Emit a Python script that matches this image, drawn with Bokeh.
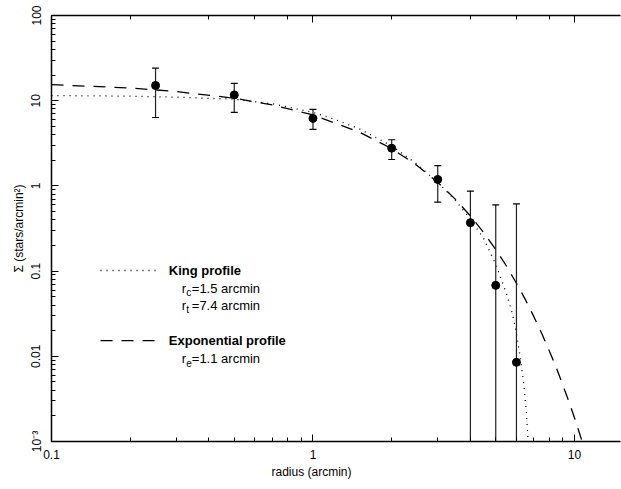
from bokeh.plotting import figure
from bokeh.models import LogAxis, LogTicker, CustomJSTickFormatter, Range1d, Title
from bokeh.embed import file_html
from bokeh.resources import INLINE
from bokeh.core.properties import value

# ---- data ----
radius = [0.25, 0.5, 1, 2, 3, 4, 5, 6]
sigma = [15.1, 11.7, 6.2, 2.77, 1.19, 0.37, 0.068, 0.0085]
sigma_hi = [24.1, 16.0, 7.9, 3.48, 1.73, 0.87, 0.60, 0.615]
sigma_lo = [6.35, 7.28, 4.6, 2.04, 0.645, None, None, None]   # None: below plot

king_r = [0.1, 0.2, 0.3, 0.5, 0.7, 1.0, 1.2, 1.5, 2.0, 2.5, 3.0, 3.5, 4.0,
          4.5, 5.0, 5.5, 5.8, 6.0, 6.2, 6.4, 6.55, 6.7]
king_s = [11.5, 11.3, 11.0, 10.4, 9.2, 7.3, 6.1, 4.7, 2.95, 1.8, 1.1, 0.68,
          0.41, 0.24, 0.12, 0.054, 0.031, 0.0184, 0.0099, 0.0047, 0.0022, 0.00066]

exp_r = [0.1, 0.2, 0.3, 0.5, 0.7, 1.0, 1.5, 2.0, 2.5, 3.0, 3.5, 4.0, 4.5, 5.0,
         5.5, 6.0, 6.5, 7.0, 7.5, 8.0, 8.5, 9.0, 9.5, 10.0, 10.5, 11.0]
exp_s = [15.4, 14.1, 12.8, 10.7, 8.9, 6.8, 4.3, 2.74, 1.74, 1.10, 0.70, 0.444,
         0.282, 0.179, 0.114, 0.072, 0.046, 0.029, 0.0185, 0.0117, 0.0075,
         0.0047, 0.0030, 0.0019, 0.0012, 0.00077]

x_tick_labels = ["0.1", "1", "10"]
y_tick_labels = ["10\u207b\u00b3", "0.01", "0.1", "1", "10", "100"]

legend_titles = ["King profile", "Exponential profile"]
legend_params = [("c", "=1.5  arcmin"), ("t", "=7.4  arcmin"), ("e", "=1.1  arcmin")]

FONT = "Liberation Sans"

p = figure(width=621, height=489, x_axis_type="log", y_axis_type="log",
           x_range=Range1d(0.1, 15), y_range=Range1d(1e-3, 100),
           output_backend="svg", toolbar_location=None,
           min_border_left=51, min_border_right=1, min_border_top=15,
           min_border_bottom=48)
p.outline_line_color = None
p.grid.visible = False
p.background_fill_color = "white"
p.border_fill_color = "white"

# ---- axes ----
xfmt = CustomJSTickFormatter(args=dict(labels=x_tick_labels),
                             code="return labels[Math.round(Math.log10(tick)) + 1] || ' ';")
yfmt = CustomJSTickFormatter(args=dict(labels=y_tick_labels),
                             code="return labels[Math.round(Math.log10(tick)) + 3] || ' ';")
p.xaxis.formatter = xfmt
p.yaxis.formatter = yfmt
p.yaxis.major_label_orientation = "vertical"

for ax in (p.xaxis[0], p.yaxis[0]):
    ax.axis_line_color = "black"
    ax.axis_line_width = 1.5
    ax.major_tick_in = 7
    ax.major_tick_out = 0
    ax.minor_tick_in = 4
    ax.minor_tick_out = 0
    ax.major_tick_line_color = "black"
    ax.minor_tick_line_color = "black"
    ax.major_label_text_font = FONT
    ax.major_label_text_font_size = "12px"
    ax.major_label_text_color = "black"
    ax.axis_label_text_font = FONT
    ax.axis_label_text_font_size = "12px"
    ax.axis_label_text_font_style = "normal"
    ax.axis_label_text_color = "black"

p.yaxis.axis_label = "\u03a3 (stars/arcmin\u00b2)"
p.xaxis.major_label_standoff = 8
p.yaxis.major_label_standoff = 8
p.yaxis.axis_label_standoff = 1

p.add_layout(Title(text="radius (arcmin)", align="left", offset=220,
                   text_font=FONT, text_font_size="12px", text_font_style="normal",
                   text_color="black", standoff=3), "below")

top = LogAxis(ticker=LogTicker(), axis_line_color="black", axis_line_width=1.5,
              major_tick_in=7, major_tick_out=0, minor_tick_in=4, minor_tick_out=0,
              major_label_text_font_size="1px", major_label_text_color=None,
              major_label_standoff=0)
p.add_layout(top, "above")

# ---- model curves ----
p.line(king_r, king_s, line_color="black", line_width=1.3, line_dash="1 5")
p.line(exp_r, exp_s, line_color="black", line_width=1.3, line_dash="12 9")

# ---- data with error bars ----
lo_plot = [v if v is not None else 1e-6 for v in sigma_lo]
p.segment(x0=radius, y0=lo_plot, x1=radius, y1=sigma_hi, line_color="#222222", line_width=1.2)
p.scatter(radius, sigma_hi, marker="dash", size=7, line_color="black", line_width=1.2)
cap_x = [r for r, v in zip(radius, sigma_lo) if v is not None]
cap_y = [v for v in sigma_lo if v is not None]
p.scatter(cap_x, cap_y, marker="dash", size=7, line_color="black", line_width=1.2)
p.scatter(radius, sigma, marker="circle", size=8, fill_color="black", line_color="black")

# ---- legend (positioned in data coordinates) ----
lx0, lx1, ltx, lpx = 0.154, 0.255, 0.281, 0.315
ly_king, ly_rc, ly_rt, ly_exp, ly_re = 0.1016, 0.0625, 0.0394, 0.0153, 0.0094
p.line([lx0, lx1], [ly_king, ly_king], line_color="black", line_width=1.3, line_dash="1 5")
p.line([lx0, lx1], [ly_exp, ly_exp], line_color="black", line_width=1.3, line_dash="12 9")
p.text(x=[ltx, ltx], y=[ly_king, ly_exp], text=legend_titles,
       text_font=value(FONT), text_font_size="13px", text_font_style="bold",
       text_baseline="middle", text_align="left", text_color="black")
param_y = [ly_rc, ly_rt, ly_re]
p.text(x=[lpx] * 3, y=param_y, text=["r"] * 3, text_font=value(FONT),
       text_font_size="13px", text_baseline="middle", text_color="black")
p.text(x=[lpx] * 3, y=param_y, text=[s for s, _ in legend_params], text_font=value(FONT),
       text_font_size="10px", text_baseline="middle", text_color="black",
       x_offset=4.5, y_offset=4)
p.text(x=[lpx] * 3, y=param_y, text=[t for _, t in legend_params], text_font=value(FONT),
       text_font_size="13px", text_baseline="middle", text_color="black",
       x_offset=10)

open("out.html", "w").write(file_html(p, INLINE))
